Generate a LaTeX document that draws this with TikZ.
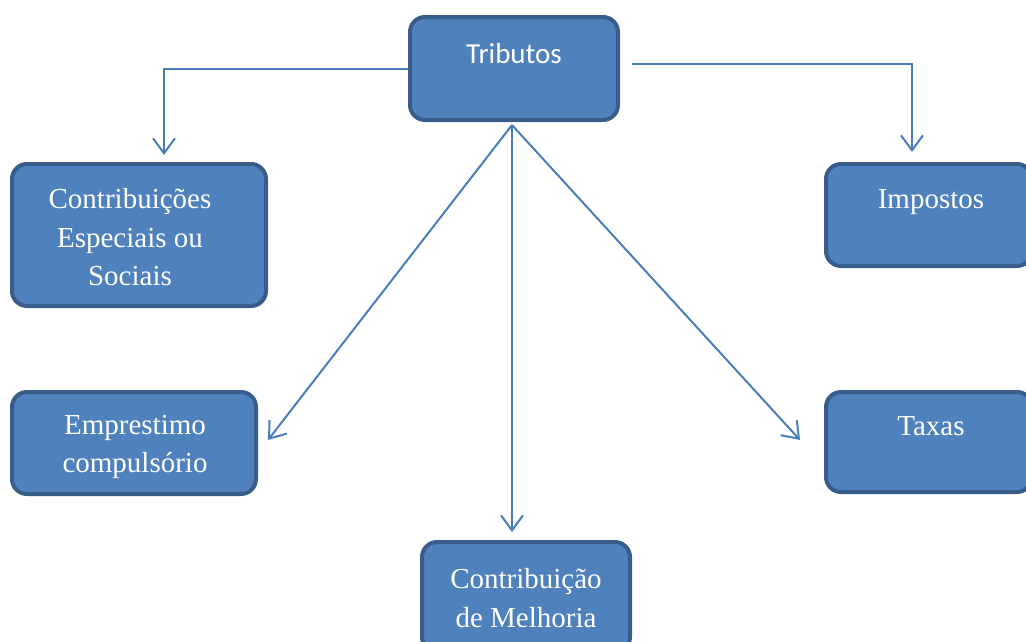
\documentclass[tikz,border=0pt]{standalone}
\usepackage{fontspec}
\setmainfont{Liberation Serif}
\newfontfamily\calib{Carlito}
\usetikzlibrary{arrows.meta}
\definecolor{boxfill}{HTML}{4F81BD}
\definecolor{boxedge}{HTML}{385D8A}
\definecolor{linecol}{HTML}{4A7EBB}
\begin{document}
\begin{tikzpicture}[x=1pt,y=-1pt,
  box/.style={draw=boxedge,fill=boxfill,line width=4pt,rounded corners=15pt,inner sep=0pt},
  txt/.style={text=white,font=\fontsize{29}{38.5}\selectfont,align=center,inner sep=0pt},
  conn/.style={draw=linecol,line width=2pt,-{Straight Barb[length=15pt,width=22pt,line width=2pt]}}]
\useasboundingbox (0,0) rectangle (1026,641);
\clip (0,0) rectangle (1026,641);
% boxes
\node[box,minimum width=208pt,minimum height=103pt] (trib) at (514,68.5) {};
\node[box,minimum width=254pt,minimum height=142pt] (contrib) at (139,235) {};
\node[box,minimum width=206pt,minimum height=102pt] (imp) at (929,215) {};
\node[box,minimum width=244pt,minimum height=102pt] (empr) at (134,443) {};
\node[box,minimum width=206pt,minimum height=100pt] (tax) at (929,442) {};
\node[box,minimum width=208pt,minimum height=110pt] (melh) at (526,597) {};
% texts
\node[txt,font=\calib\fontsize{29}{38.5}\selectfont] (tribt) at (514,54) {Tributos};
\node[txt] (contribt) at (130,237.5) {Contribuições\\Especiais ou\\Sociais};
\node[txt] (impt) at (931,202) {Impostos};
\node[txt] (emprt) at (135,447) {Emprestimo\\compulsório};
\node[txt] (taxt) at (931,426) {Taxas};
\node[txt] (melht) at (526,598) {Contribuição\\de Melhoria};
% connector coordinates
\coordinate (lend) at (164,155);
\coordinate (rstart) at (632,64);
\coordinate (rend) at (912,152);
\coordinate (hub) at (512,125);
\coordinate (eend) at (268,440);
\coordinate (mend) at (512,532);
\coordinate (tend) at (800,440);
% connectors
\draw[conn] (trib.west) -| (lend);
\draw[conn] (rstart) -| (rend);
\draw[conn] (hub) -- (eend);
\draw[conn] (hub) -- (mend);
\draw[conn] (hub) -- (tend);
\end{tikzpicture}
\end{document}
